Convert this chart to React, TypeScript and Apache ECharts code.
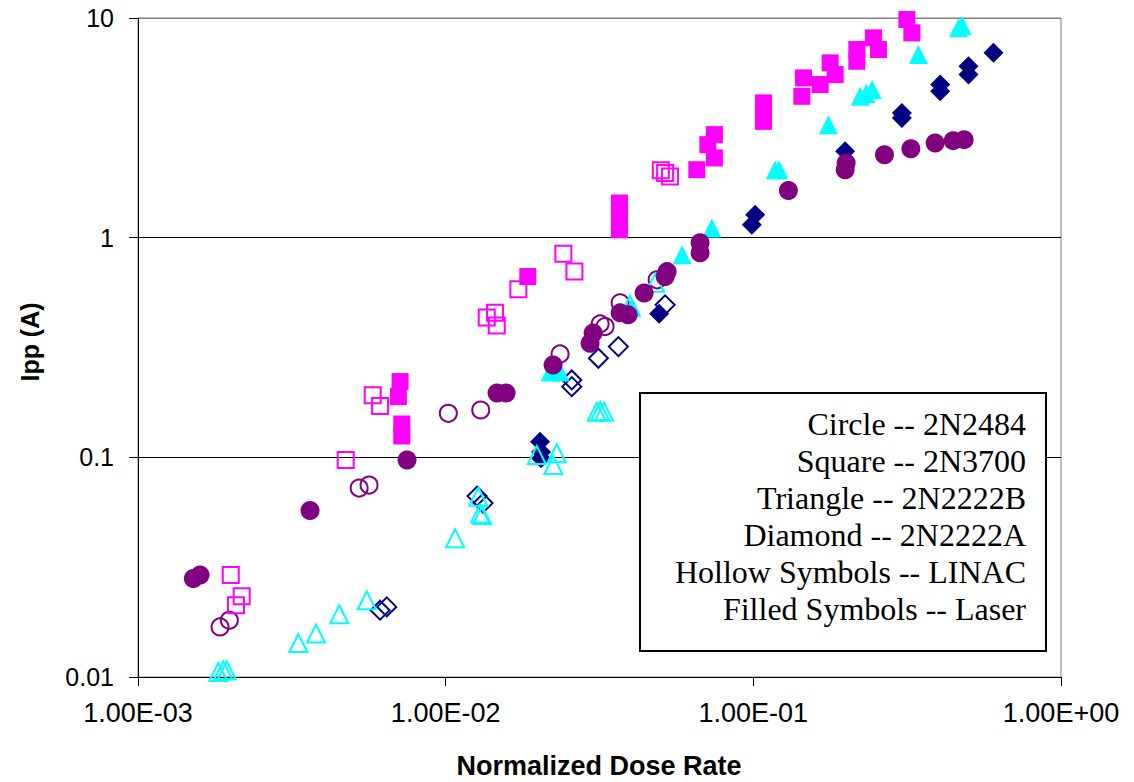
import React, { useEffect, useRef } from "react";
import * as echarts from "echarts";

type Pt = [number, number];

// Laser (filled) and LINAC (hollow) measurements: [normalized dose rate, Ipp (A)]
const laserCircle: Pt[] = [[0.001513,0.0281],[0.001591,0.0291],[0.003624,0.0573],[0.00749,0.0972],[0.01469,0.1964],[0.01572,0.1964],[0.02234,0.2634],[0.02947,0.3309],[0.03015,0.3685],[0.0369,0.4546],[0.03917,0.4452],[0.04416,0.5593],[0.05167,0.6656],[0.05245,0.7005],[0.06714,0.8535],[0.06714,0.9478],[0.13,1.641],[0.1988,2.039],[0.2003,2.188],[0.2668,2.387],[0.3251,2.542],[0.3899,2.699],[0.4462,2.765],[0.4845,2.794]];
const linacCircle: Pt[] = [[0.001848,0.0169],[0.001981,0.01813],[0.005233,0.07246],[0.005636,0.07475],[0.0102,0.1586],[0.013,0.1642],[0.02354,0.2957],[0.03177,0.4051],[0.03297,0.3938],[0.0369,0.5051],[0.04867,0.6427]];
const laserSquare: Pt[] = [[0.00711,0.2212],[0.00702,0.1889],[0.0072,0.1418],[0.0072,0.1251],[0.01849,0.6656],[0.03671,1.438],[0.03671,1.272],[0.03671,1.182],[0.03671,1.086],[0.06552,2.039],[0.07471,2.306],[0.07114,2.651],[0.07471,2.944],[0.1079,4.108],[0.1079,3.749],[0.1079,3.385],[0.1455,5.339],[0.1438,4.401],[0.1649,4.977],[0.1777,6.249],[0.1845,5.527],[0.217,7.185],[0.217,6.355],[0.2457,8.124],[0.2551,7.185],[0.3155,9.844],[0.3276,8.56]];
const linacSquare: Pt[] = [[0.002002,0.0291],[0.002173,0.02332],[0.002082,0.02123],[0.004733,0.0972],[0.005794,0.1917],[0.006122,0.1713],[0.0136,0.4328],[0.01447,0.4546],[0.01466,0.398],[0.01723,0.5831],[0.02413,0.8446],[0.02621,0.7015],[0.05004,2.025],[0.05167,1.97],[0.05362,1.9]];
const laserTriangle: Pt[] = [[0.02185,0.2447],[0.02354,0.2447],[0.04027,0.4792],[0.05869,0.8356],[0.07328,1.106],[0.1178,2.039],[0.1213,2.039],[0.1754,3.27],[0.2225,4.401],[0.2327,4.527],[0.2433,4.722],[0.3441,6.818],[0.4644,9.023],[0.4773,9.245]];
const linacTriangle: Pt[] = [[0.001824,0.01054],[0.001893,0.01073],[0.001942,0.01073],[0.00332,0.01429],[0.003791,0.01577],[0.004512,0.01931],[0.00554,0.02237],[0.01073,0.04287],[0.01277,0.06612],[0.01294,0.05557],[0.01314,0.05458],[0.01978,0.1024],[0.02297,0.1043],[0.02239,0.0922],[0.03099,0.1614],[0.03177,0.1626],[0.03273,0.1614],[0.03977,0.4945],[0.04795,0.6228]];
const laserDiamond: Pt[] = [[0.02027,0.1178],[0.02042,0.1057],[0.02042,0.09895],[0.04941,0.4499],[0.09888,1.145],[0.1014,1.272],[0.1988,2.471],[0.304,3.698],[0.304,3.509],[0.4049,4.977],[0.4049,4.639],[0.5005,6.03],[0.5005,5.527],[0.6034,6.94]];
const linacDiamond: Pt[] = [[0.006122,0.02014],[0.006435,0.02085],[0.01265,0.06661],[0.01323,0.06189],[0.0257,0.2251],[0.0257,0.2098],[0.03136,0.2826],[0.03643,0.3192],[0.05167,0.4945]];

const legendLines = [
  "Circle -- 2N2484",
  "Square -- 2N3700",
  "Triangle -- 2N2222B",
  "Diamond -- 2N2222A",
  "Hollow Symbols -- LINAC",
  "Filled Symbols -- Laser",
];

const xTitle = "Normalized Dose Rate";
const yTitle = "Ipp (A)";

const PURPLE = "#800080";
const MAGENTA = "#FF00FF";
const CYAN = "#00FFFF";
const NAVY = "#000080";

function fmtX(v: number): string {
  const e = Math.round(Math.log10(v));
  const a = Math.abs(e);
  return "1.00E" + (e < 0 ? "-" : "+") + (a < 10 ? "0" : "") + a;
}
function fmtY(v: number): string {
  return String(Number(v.toPrecision(3)));
}

function filled(name: string, data: Pt[], symbol: string, size: number | number[], color: string) {
  return {
    type: "scatter",
    name,
    data,
    symbol,
    symbolSize: size,
    clip: false,
    itemStyle: { color, opacity: 1 },
    emphasis: { disabled: true },
  };
}
function hollow(name: string, data: Pt[], symbol: string, size: number | number[], color: string) {
  return {
    type: "scatter",
    name,
    data,
    symbol,
    symbolSize: size,
    clip: false,
    itemStyle: { color: "rgba(255,255,255,0)", borderColor: color, borderWidth: 2, opacity: 1 },
    emphasis: { disabled: true },
  };
}

export default function App() {
  const ref = useRef<HTMLDivElement>(null);
  useEffect(() => {
    document.body.style.margin = "0";
    if (!ref.current) return;
    const chart = echarts.init(ref.current, undefined, { renderer: "svg" });
    const sans = "'Liberation Sans', Arial, sans-serif";
    const serif = "'Liberation Serif', 'Times New Roman', serif";
    const legendTexts = legendLines.map((t, i) => ({
      type: "text",
      x: 1026,
      y: 424 + i * 37,
      z: 11,
      style: { text: t, font: `32px ${serif}`, fill: "#000", textAlign: "right", textVerticalAlign: "middle" },
    }));
    chart.setOption({
      animation: false,
      backgroundColor: "#fff",
      grid: {
        left: 138,
        right: 73,
        top: 18,
        bottom: 105,
        show: true,
        borderColor: "#808080",
        borderWidth: 1,
        backgroundColor: "transparent",
      },
      xAxis: {
        type: "log",
        logBase: 10,
        min: 0.001,
        max: 1,
        axisLine: { show: true, lineStyle: { color: "#000", width: 1 } },
        axisTick: { show: true, length: 9, lineStyle: { color: "#000" } },
        axisLabel: { formatter: fmtX, fontFamily: sans, fontSize: 27, color: "#000", margin: 22 },
        splitLine: { show: false },
        minorTick: { show: false },
      },
      yAxis: {
        type: "log",
        logBase: 10,
        min: 0.01,
        max: 10,
        axisLine: { show: true, lineStyle: { color: "#000", width: 1 } },
        axisTick: { show: true, length: 9, lineStyle: { color: "#000" } },
        axisLabel: { formatter: fmtY, fontFamily: sans, fontSize: 25, color: "#000", margin: 24 },
        splitLine: { show: true, lineStyle: { color: ["#000", "#000", "#000", "#808080"], width: 1 } },
      },
      graphic: [
        {
          type: "text",
          x: 599,
          y: 766,
          style: { text: xTitle, font: `bold 27px ${sans}`, fill: "#000", textAlign: "center", textVerticalAlign: "middle" },
        },
        {
          type: "text",
          x: 30,
          y: 342,
          rotation: Math.PI / 2,
          style: { text: yTitle, font: `bold 25px ${sans}`, fill: "#000", textAlign: "center", textVerticalAlign: "middle" },
        },
        {
          type: "rect",
          shape: { x: 640, y: 393, width: 406, height: 258 },
          style: { fill: "#fff", stroke: "#000", lineWidth: 2 },
          z: 10,
        },
        ...legendTexts,
      ],
      series: [
        hollow("LINAC 2N2484", linacCircle, "circle", 17, PURPLE),
        filled("Laser 2N2222A", laserDiamond, "diamond", 20, NAVY),
        hollow("LINAC 2N2222A", linacDiamond, "diamond", 19, NAVY),
        hollow("LINAC 2N2222B", linacTriangle, "triangle", 18, CYAN),
        filled("Laser 2N2222B", laserTriangle, "triangle", 19, CYAN),
        filled("Laser 2N2484", laserCircle, "circle", 19, PURPLE),
        hollow("LINAC 2N3700", linacSquare, "rect", 16, MAGENTA),
        filled("Laser 2N3700", laserSquare, "rect", 17, MAGENTA),
      ],
    });
    return () => chart.dispose();
  }, []);
  return <div ref={ref} style={{ width: 1134, height: 782, position: "absolute", left: 0, top: 0 }} />;
}
